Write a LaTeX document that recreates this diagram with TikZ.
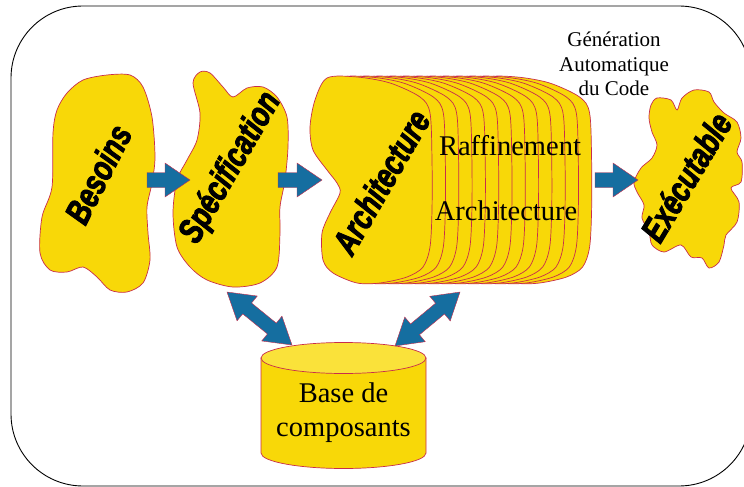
\documentclass[tikz,border=0pt]{standalone}
\usepackage{fontspec}
\setmainfont{Liberation Serif}
\newfontfamily\artfont[BoldFeatures={FakeBold=3},BoldItalicFeatures={FakeBold=3}]{Liberation Sans}
\usetikzlibrary{calc}

\definecolor{blobyellow}{RGB}{248,216,8}
\definecolor{blobline}{RGB}{200,45,75}
\definecolor{arrowblue}{RGB}{21,110,160}
\definecolor{cyltop}{RGB}{250,226,58}

% block arrow from #1 to #2
\newcommand{\blockarrow}[2]{%
  \coordinate (hd) at ($(#2)!25pt!(#1)$);
  \filldraw[barrow]
    ($(#1)!7.5pt!90:(#2)$) -- ($(hd)!7.5pt!90:(#2)$) -- ($(hd)!17pt!90:(#2)$)
    -- (#2) -- ($(hd)!17pt!-90:(#2)$) -- ($(hd)!7.5pt!-90:(#2)$)
    -- ($(#1)!7.5pt!-90:(#2)$) -- cycle;
}
% block arrow with two heads
\newcommand{\doublearrow}[2]{%
  \coordinate (hda) at ($(#1)!26pt!(#2)$);
  \coordinate (hdb) at ($(#2)!26pt!(#1)$);
  \filldraw[barrow]
    (#1) -- ($(hda)!16pt!90:(#2)$) -- ($(hda)!7pt!90:(#2)$)
    -- ($(hdb)!7pt!90:(#2)$) -- ($(hdb)!16pt!90:(#2)$) -- (#2)
    -- ($(hdb)!16pt!-90:(#2)$) -- ($(hdb)!7pt!-90:(#2)$)
    -- ($(hda)!7pt!-90:(#2)$) -- ($(hda)!16pt!-90:(#2)$) -- cycle;
}

\begin{document}
\begin{tikzpicture}[x=1pt,y=-1pt,
  blob/.style={fill=blobyellow,draw=blobline,line width=0.7pt},
  barrow/.style={fill=arrowblue,draw=blobline,line width=0.4pt},
  arttext/.style={font=\artfont\bfseries\itshape\fontsize{35}{35}\selectfont,xscale=0.77,inner sep=0pt},
  bodytext/.style={font=\fontsize{28.5}{34}\selectfont,align=center,inner sep=0pt}]

\useasboundingbox (0,0) rectangle (744,487);
\draw[line width=0.9pt,rounded corners=72pt] (11,6) rectangle (751,486);

% Besoins
\filldraw[blob] plot[smooth cycle] coordinates {
  (130,75) (143,87) (152,117) (155,157) (152,183) (147,207) (148,233) (150,260)
  (143,283) (127,292) (110,290) (97,277) (83,267) (67,272) (50,270) (40,253)
  (42,217) (52,187) (53,133) (57,110) (67,93) (83,80) (107,75)};
\node[rotate=63,arttext] (besoins) at (98,174) {Besoins};

% Specification
\filldraw[blob] plot[smooth cycle] coordinates {
  (200,72) (210,73) (223,87) (233,97) (247,88) (263,87) (277,97) (287,117)
  (288,147) (285,180) (280,207) (280,233) (277,267) (260,283) (233,287) (207,280)
  (190,267) (177,247) (173,213) (177,180) (187,160) (197,140) (200,113) (193,83)};
\node[rotate=60,arttext] (spec) at (231,168) {Spécification};

% Architecture et ses raffinements
\foreach \k in {12,11,...,0}
  \filldraw[blob,xshift=\k*13.3pt] plot[smooth cycle] coordinates {
    (327,78) (357,77) (390,83) (420,97) (430,113) (432,160) (432,210) (430,247)
    (423,267) (407,277) (380,283) (357,283) (333,273) (323,260) (322,233) (330,213)
    (340,193) (337,183) (327,170) (313,150) (310,127) (315,100)};
\node[rotate=60,arttext] (arch) at (381,182) {Architecture};
\node[bodytext,anchor=base] (raff) at (510,155) {Raffinement};
\node[bodytext,anchor=base] (archi) at (506,220) {Architecture};

% Executable
\filldraw[blob] plot[smooth cycle] coordinates {
  (651,105) (657,98) (671,100) (677,110) (682,98) (694,90) (709,92) (714,102)
  (724,113) (737,122) (741,138) (737,152) (742,162) (741,182) (731,188) (739,202)
  (737,222) (726,235) (724,245) (719,262) (709,268) (702,258) (691,257) (681,245)
  (664,252) (652,245) (649,232) (642,218) (644,205) (637,192) (634,182) (641,168)
  (652,158) (657,145) (652,132) (649,118)};
\node[rotate=59,arttext] (exec) at (686,177) {Exécutable};
\node[font=\fontsize{21}{24.5}\selectfont,align=center,inner sep=0pt] (gen) at (614,64.3)
  {Génération\\Automatique\\du Code};

% Base de composants
\filldraw[blob] (261,358) -- (261,453) arc[start angle=180,end angle=0,x radius=82.5,y radius=15.5]
  -- (426,358) -- cycle;
\filldraw[blob,fill=cyltop] (343.5,358) ellipse[x radius=82.5,y radius=15.5];
\node[bodytext] (base) at (343.5,413) {Base de\\composants};

% fleches
\coordinate (besoins-out) at (147,180);
\coordinate (spec-in) at (190,180);
\coordinate (spec-out) at (278,180);
\coordinate (arch-in) at (322,180);
\coordinate (arch-out) at (595,180);
\coordinate (exec-in) at (638,180);
\coordinate (spec-low) at (227,292);
\coordinate (base-l) at (292,345);
\coordinate (arch-low) at (460,292);
\coordinate (base-r) at (395,346);

\blockarrow{besoins-out}{spec-in}
\blockarrow{spec-out}{arch-in}
\blockarrow{arch-out}{exec-in}
\doublearrow{spec-low}{base-l}
\doublearrow{base-r}{arch-low}

\end{tikzpicture}
\end{document}
